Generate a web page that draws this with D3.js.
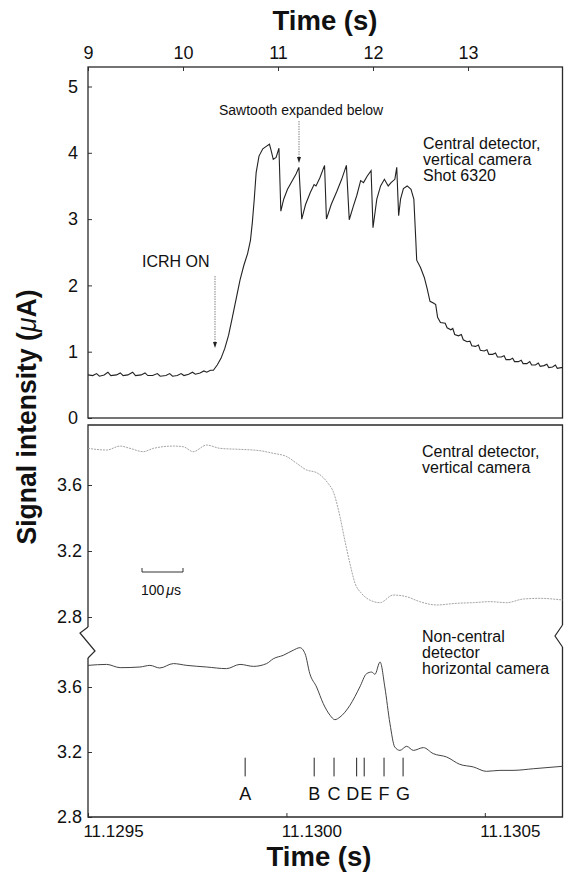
<!DOCTYPE html>
<html>
<head>
<meta charset="utf-8">
<script src="https://cdn.jsdelivr.net/npm/d3@7"></script>
<style>
  body { margin: 0; background: #fff; }
  svg { display: block; font-family: "Liberation Sans", Arial, Helvetica, sans-serif; }
  .tick text { fill: #111; }
  .tick line { stroke: #333; }
</style>
</head>
<body>
<svg width="564" height="877"></svg>
<script>
// shot 6320, whole pulse (s, uA)
const shotTime = [9.00, 9.05, 9.09, 9.12, 9.17, 9.21, 9.24, 9.30, 9.34, 9.37, 9.42, 9.47, 9.50, 9.56, 9.60, 9.63,
  9.68, 9.73, 9.76, 9.82, 9.86, 9.89, 9.94, 9.98, 10.01, 10.06, 10.10, 10.13, 10.18, 10.22, 10.25, 10.29, 10.32,
  10.36, 10.40, 10.44, 10.48, 10.52, 10.56, 10.60, 10.64, 10.68, 10.71, 10.73, 10.75, 10.77, 10.80, 10.84, 10.88,
  10.91, 10.93, 10.95, 10.98, 11.01, 11.03, 11.06, 11.10, 11.15, 11.19, 11.22, 11.25, 11.29, 11.34, 11.38, 11.40,
  11.44, 11.49, 11.51, 11.56, 11.62, 11.67, 11.72, 11.75, 11.79, 11.83, 11.87, 11.90, 11.94, 11.98, 12.00, 12.04,
  12.08, 12.12, 12.16, 12.19, 12.23, 12.25, 12.27, 12.29, 12.32, 12.36, 12.40, 12.43, 12.45, 12.46, 12.50, 12.54,
  12.57, 12.60, 12.64, 12.66, 12.68, 12.71, 12.76, 12.78, 12.82, 12.84, 12.86, 12.90, 12.93, 12.95, 12.99, 13.02,
  13.04, 13.08, 13.11, 13.13, 13.17, 13.20, 13.22, 13.26, 13.29, 13.31, 13.35, 13.38, 13.40, 13.44, 13.47, 13.49,
  13.53, 13.56, 13.58, 13.62, 13.65, 13.67, 13.71, 13.74, 13.76, 13.80, 13.83, 13.85, 13.89, 13.92, 13.94, 13.98, 14.00];
const shotSignal = [0.65, 0.64, 0.67, 0.63, 0.65, 0.69, 0.64, 0.65, 0.68, 0.64, 0.65, 0.69, 0.64, 0.65, 0.68, 0.64,
  0.64, 0.67, 0.63, 0.64, 0.67, 0.63, 0.64, 0.67, 0.64, 0.66, 0.69, 0.66, 0.68, 0.71, 0.69, 0.72, 0.72,
  0.80, 0.90, 1.05, 1.25, 1.52, 1.80, 2.08, 2.30, 2.48, 2.68, 2.95, 3.30, 3.70, 3.95, 4.06, 4.10,
  4.13, 4.02, 3.90, 3.93, 4.07, 3.12, 3.30, 3.45, 3.58, 3.68, 3.78, 3.00, 3.22, 3.40, 3.52, 3.50,
  3.62, 3.81, 3.00, 3.22, 3.42, 3.60, 3.81, 2.99, 3.18, 3.36, 3.58, 3.55, 3.65, 3.73, 2.87, 3.30,
  3.50, 3.60, 3.50, 3.55, 3.60, 3.78, 3.05, 3.30, 3.46, 3.50, 3.45, 3.30, 2.70, 2.38, 2.27, 2.12,
  1.95, 1.76, 1.73, 1.71, 1.52, 1.44, 1.43, 1.36, 1.33, 1.35, 1.26, 1.24, 1.26, 1.18, 1.15, 1.16,
  1.09, 1.08, 1.10, 1.02, 1.01, 1.03, 0.96, 0.96, 0.98, 0.92, 0.92, 0.94, 0.88, 0.88, 0.90, 0.85,
  0.85, 0.87, 0.82, 0.82, 0.85, 0.80, 0.80, 0.83, 0.78, 0.79, 0.81, 0.76, 0.77, 0.80, 0.75, 0.76, 0.76];

// one sawtooth crash, expanded (s, uA)
const centralTime = [11.129500, 11.129547, 11.129581, 11.129606, 11.129639, 11.129665, 11.129715, 11.129740,
  11.129765, 11.129799, 11.129833, 11.129883, 11.129933, 11.129967, 11.130001, 11.130026, 11.130051, 11.130076,
  11.130105, 11.130118, 11.130135, 11.130147, 11.130160, 11.130173, 11.130189, 11.130210, 11.130236, 11.130269,
  11.130303, 11.130336, 11.130378, 11.130429, 11.130471, 11.130513, 11.130555, 11.130597, 11.130639, 11.130696];
const centralSignal = [3.822, 3.812, 3.836, 3.822, 3.802, 3.822, 3.836, 3.832,
  3.802, 3.842, 3.822, 3.816, 3.808, 3.792, 3.772, 3.731, 3.691, 3.675,
  3.610, 3.560, 3.408, 3.267, 3.125, 3.004, 2.944, 2.903, 2.887, 2.933,
  2.923, 2.893, 2.873, 2.883, 2.887, 2.893, 2.887, 2.909, 2.913, 2.903];

const offTime = [11.129500, 11.129547, 11.129581, 11.129631, 11.129656, 11.129681, 11.129715, 11.129749,
  11.129799, 11.129849, 11.129883, 11.129917, 11.129950, 11.129967, 11.129992, 11.130017, 11.130034, 11.130047,
  11.130059, 11.130076, 11.130093, 11.130110, 11.130122, 11.130135, 11.130160, 11.130185, 11.130202, 11.130215,
  11.130223, 11.130236, 11.130248, 11.130261, 11.130273, 11.130286, 11.130303, 11.130320, 11.130345, 11.130370,
  11.130404, 11.130437, 11.130471, 11.130504, 11.130538, 11.130571, 11.130622, 11.130696];
const offSignal = [3.733, 3.739, 3.719, 3.723, 3.733, 3.717, 3.744, 3.733,
  3.723, 3.713, 3.739, 3.727, 3.744, 3.774, 3.795, 3.826, 3.842, 3.805,
  3.682, 3.600, 3.497, 3.426, 3.399, 3.415, 3.487, 3.600, 3.682, 3.692,
  3.678, 3.754, 3.600, 3.374, 3.231, 3.210, 3.235, 3.210, 3.227, 3.190,
  3.169, 3.124, 3.108, 3.081, 3.087, 3.087, 3.097, 3.112];

const markerNames = ['A', 'B', 'C', 'D', 'E', 'F', 'G'];
const markerTime = [11.129896, 11.130070, 11.130120, 11.130177, 11.130196, 11.130246, 11.130294];

const shotTicks = [9, 10, 11, 12, 13];
const shotYTicks = [0, 1, 2, 3, 4, 5];
const zoomTicks = [11.1295, 11.1300, 11.1305];
const zoomYTicks = [2.8, 3.2, 3.6];

const svg = d3.select('svg');
const L = 88, R = 562.5;

const x = d3.scaleLinear().domain([9, 14]).range([L, 563]);
const y = d3.scaleLinear().domain([0, 5]).range([418, 86.5]);
const xz = d3.scaleLinear().domain([11.1295, 11.130697]).range([L, 563]);
const yUp = d3.scaleLinear().domain([2.8, 3.6]).range([617, 485]);
const yLo = d3.scaleLinear().domain([2.8, 3.6]).range([817, 687]);

function styleAxis(g, size) {
  g.select('.domain').remove();
  g.attr('font-size', size).attr('font-family', null);
  g.selectAll('line').attr('stroke', '#333');
}

// top panel axes
svg.append('g').attr('transform', 'translate(0,67)')
  .call(d3.axisTop(x).tickValues(shotTicks).tickSize(-4).tickPadding(8).tickFormat(d3.format('d')))
  .call(styleAxis, 18);
svg.append('g').attr('transform', 'translate(' + L + ',0)')
  .call(d3.axisLeft(y).tickValues(shotYTicks).tickSize(-4).tickPadding(10).tickFormat(d3.format('d')))
  .call(styleAxis, 18);

// bottom panel axes
[yUp, yLo].forEach(s => {
  svg.append('g').attr('transform', 'translate(' + L + ',0)')
    .call(d3.axisLeft(s).tickValues(zoomYTicks).tickSize(-4).tickPadding(6).tickFormat(d3.format('.1f')))
    .call(styleAxis, 18);
});
svg.append('g').attr('transform', 'translate(0,817)')
  .call(d3.axisBottom(xz).tickValues(zoomTicks).tickSize(-4).tickPadding(8).tickFormat(d3.format('.4f')))
  .call(styleAxis, 17)
  .call(g => g.selectAll('text').attr('dx', 25));

// frames
svg.append('rect').attr('x', L).attr('y', 67).attr('width', R - L).attr('height', 418 - 67)
  .attr('fill', 'none').attr('stroke', '#2a2a2a').attr('stroke-width', 1.3);
const frame = d3.line();
svg.append('path')
  .attr('d', frame([[L, 627], [L, 425], [R, 425], [R, 625]]))
  .attr('fill', 'none').attr('stroke', '#2a2a2a').attr('stroke-width', 1.3);
svg.append('path')
  .attr('d', frame([[L, 658], [L, 817], [R, 817], [R, 647]]))
  .attr('fill', 'none').attr('stroke', '#2a2a2a').attr('stroke-width', 1.3);
svg.append('path')
  .attr('d', frame([[L, 627], [80, 633], [95, 651], [L, 658]]))
  .attr('fill', 'none').attr('stroke', '#2a2a2a').attr('stroke-width', 1.2);
svg.append('path')
  .attr('d', frame([[R, 625], [555, 636], [R, 647]]))
  .attr('fill', 'none').attr('stroke', '#2a2a2a').attr('stroke-width', 1.2);

// curves
svg.append('path')
  .attr('d', d3.line().x((d, i) => x(shotTime[i])).y(d => y(d))(shotSignal))
  .attr('fill', 'none').attr('stroke', '#222').attr('stroke-width', 1.1);
svg.append('path')
  .attr('d', d3.line().curve(d3.curveMonotoneX).x((d, i) => xz(centralTime[i])).y(d => yUp(d))(centralSignal))
  .attr('fill', 'none').attr('stroke', '#999').attr('stroke-width', 0.9).attr('stroke-dasharray', '2,1');
svg.append('path')
  .attr('d', d3.line().curve(d3.curveMonotoneX).x((d, i) => xz(offTime[i])).y(d => yLo(d))(offSignal))
  .attr('fill', 'none').attr('stroke', '#444').attr('stroke-width', 1);

// A-G markers
const nudge = { D: -4, E: 2 };
const mk = svg.append('g');
markerTime.forEach((t, i) => {
  mk.append('line').attr('x1', xz(t)).attr('x2', xz(t))
    .attr('y1', yLo(3.165)).attr('y2', yLo(3.05)).attr('stroke', '#222').attr('stroke-width', 1);
  mk.append('text').attr('x', xz(t) + (nudge[markerNames[i]] || 0)).attr('y', 800)
    .attr('text-anchor', 'middle').style('font-size', '18px').attr('fill', '#111')
    .text(markerNames[i]);
});

// arrows
function arrow(px, y0, y1) {
  svg.append('line').attr('x1', px).attr('x2', px).attr('y1', y0).attr('y2', y1 - 5)
    .attr('stroke', '#777').attr('stroke-width', 0.9).attr('stroke-dasharray', '1.5,1');
  svg.append('path').attr('d', 'M' + (px - 2) + ',' + (y1 - 6) + 'L' + (px + 2) + ',' + (y1 - 6) + 'L' + px + ',' + y1 + 'Z')
    .attr('fill', '#222');
}
arrow(215, 276, 348);
arrow(299, 121, 163);

// annotations
function label(lines, px, py, size) {
  const t = svg.append('text').attr('x', px).attr('y', py).style('font-size', size + 'px').attr('fill', '#111');
  lines.forEach((s, i) => t.append('tspan').attr('x', px).attr('dy', i ? 16 : 0).text(s));
}
label(['ICRH ON'], 142, 267, 16);
label(['Sawtooth expanded below'], 219, 115, 14);
label(['Central detector,', 'vertical camera', 'Shot 6320'], 423, 149, 16);
label(['Central detector,', 'vertical camera'], 422, 457, 16);
label(['Non-central', 'detector', 'horizontal camera'], 422, 642, 16);

// 100 us scale bar
svg.append('path').attr('d', 'M142,568V572H183V568').attr('fill', 'none').attr('stroke', '#333').attr('stroke-width', 1);
const sb = svg.append('text').attr('x', 141).attr('y', 595).style('font-size', '14px').attr('fill', '#111');
sb.append('tspan').text('100');
sb.append('tspan').attr('dx', 2).style('font-style', 'italic').text('\u03bc');
sb.append('tspan').text('s');

// titles
svg.append('text').attr('x', 325).attr('y', 30).attr('text-anchor', 'middle')
  .style('font-size', '27.5px').style('font-weight', 'bold').attr('fill', '#111').text('Time (s)');
svg.append('text').attr('x', 319).attr('y', 866).attr('text-anchor', 'middle')
  .style('font-size', '27.5px').style('font-weight', 'bold').attr('fill', '#111').text('Time (s)');
const yl = svg.append('text').attr('transform', 'translate(36,417) rotate(-90)').attr('text-anchor', 'middle')
  .style('font-size', '28px').style('font-weight', 'bold').attr('fill', '#111')
  .attr('textLength', 255).attr('lengthAdjust', 'spacingAndGlyphs');
yl.append('tspan').text('Signal intensity (');
yl.append('tspan').style('font-style', 'italic').style('font-weight', 'normal').text('\u03bc');
yl.append('tspan').text('A)');
</script>
</body>
</html>
